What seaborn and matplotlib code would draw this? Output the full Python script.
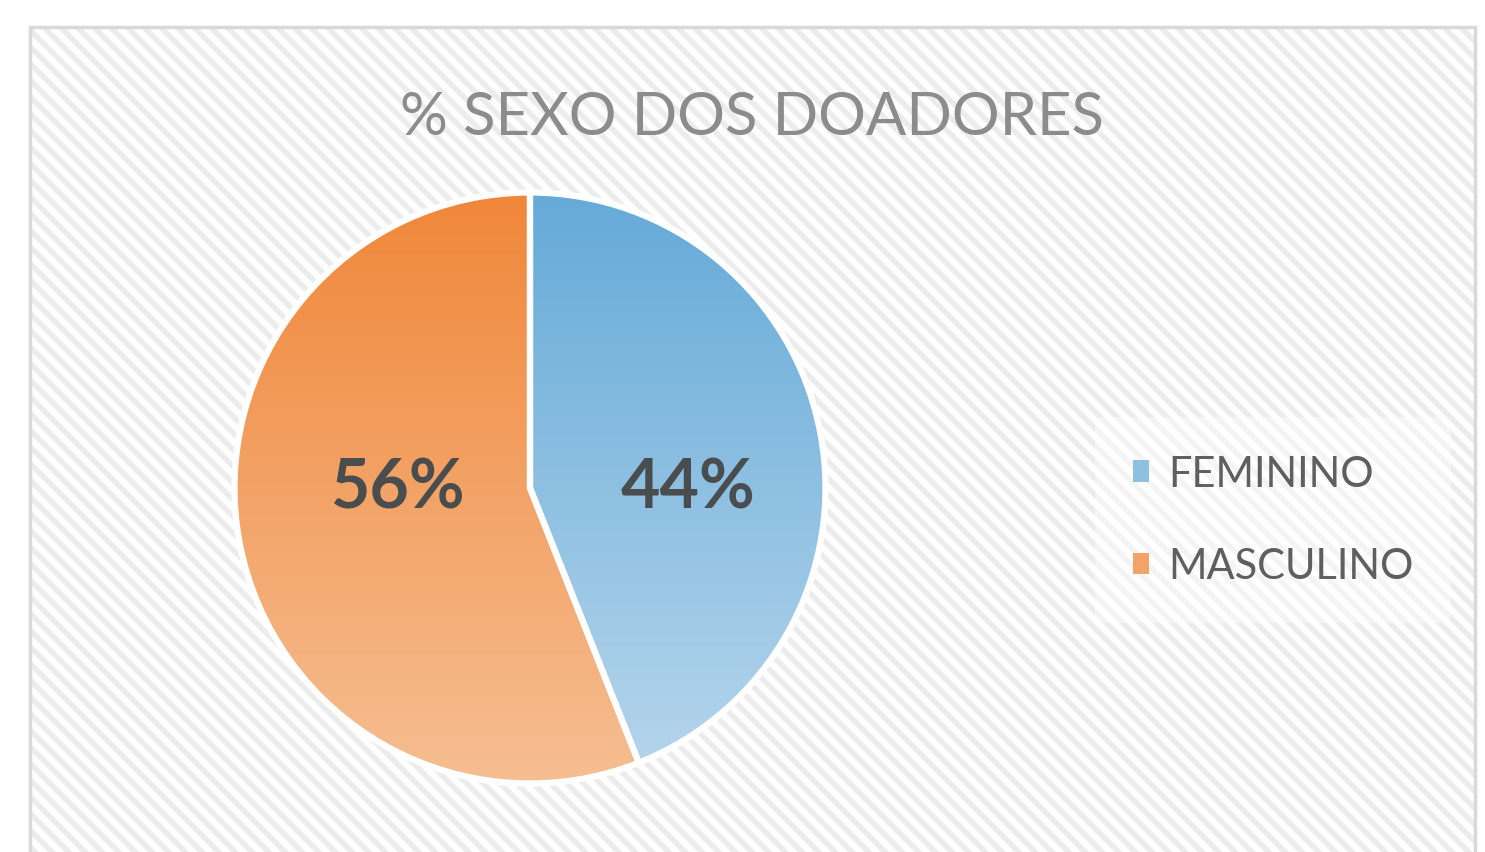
import numpy as np
import matplotlib
matplotlib.use("Agg")
import matplotlib.pyplot as plt
from matplotlib.patches import Rectangle, Patch
from matplotlib.colors import LinearSegmentedColormap
import seaborn as sns

# ---- data ----
categories = ["FEMININO", "MASCULINO"]
values = [44, 56]
title = "% SEXO DOS DOADORES"

# gradient colours (top, bottom) per category
top_colors = ["#65aad8", "#f0873a"]
bottom_colors = ["#b7d6ec", "#f6be92"]

sns.set_theme(style="white")
plt.rcParams["font.family"] = ["Lato", "DejaVu Sans"]
plt.rcParams["hatch.linewidth"] = 4.0

W, H = 1485, 853
fig = plt.figure(figsize=(W / 100, H / 100), dpi=100)
fig.patch.set_facecolor("white")

# chart area background with diagonal stripes and border
box = ((30 / W, -0.02), (1475 - 30) / W, 1 - 28 / H + 0.02)
bg = Rectangle(*box, transform=fig.transFigure, facecolor="white",
               edgecolor="#ececec", linewidth=0, hatch="\\\\", zorder=0)
fig.add_artist(bg)
border = Rectangle(*box, transform=fig.transFigure, facecolor="none",
                   edgecolor="#d9d9d9", linewidth=2.5, zorder=1)
fig.add_artist(border)

fig.text(0.5065, 1 - 118 / H, title, ha="center", va="center",
         fontsize=43, color="#8c8c8c")

# pie axes
cx, cy, r = 530, 489, 297
ax = fig.add_axes([(cx - r) / W, (H - cy - r) / H, 2 * r / W, 2 * r / H])
ax.set_facecolor("none")
wedges, _ = ax.pie(values, startangle=90, counterclock=False, radius=1,
                   colors=[(1, 1, 1, 0), (1, 1, 1, 0)],
                   wedgeprops=dict(edgecolor="white", linewidth=4.5))
ax.set_xlim(-1.005, 1.005)
ax.set_ylim(-1.005, 1.005)
ax.set_aspect("equal")
ax.axis("off")

for w, c0, c1 in zip(wedges, top_colors, bottom_colors):
    cmap = LinearSegmentedColormap.from_list("g", [c1, c0])
    grad = np.linspace(0, 1, 256).reshape(-1, 1)
    im = ax.imshow(grad, cmap=cmap, extent=[-1, 1, -1, 1], origin="lower",
                   aspect="auto", zorder=1)
    im.set_clip_path(w)
    w.set_zorder(2)

# percentage labels
label_pos = [(0.535, 0.0), (-0.45, 0.0)]
for (x, y), v in zip(label_pos, values):
    ax.text(x, y, f"{v}%", ha="center", va="center", fontsize=49,
            fontweight="bold", color="#4a4d4e", zorder=3)

# legend
handles = [Patch(facecolor=sns.blend_palette([t, b], 3)[1], edgecolor="none")
           for t, b in zip(top_colors, bottom_colors)]
leg = fig.legend(handles, categories, loc="center left",
                 bbox_to_anchor=(1095 / W, 1 - 521 / H), fontsize=30,
                 frameon=True, facecolor="white", edgecolor="none",
                 framealpha=0.45, handlelength=0.4, handleheight=0.4,
                 handletextpad=0.45, labelspacing=1.3, borderpad=0.9,
                 borderaxespad=0)
for t in leg.get_texts():
    t.set_color("#5f5f5f")

fig.savefig("out.png", dpi=100, facecolor="white")
